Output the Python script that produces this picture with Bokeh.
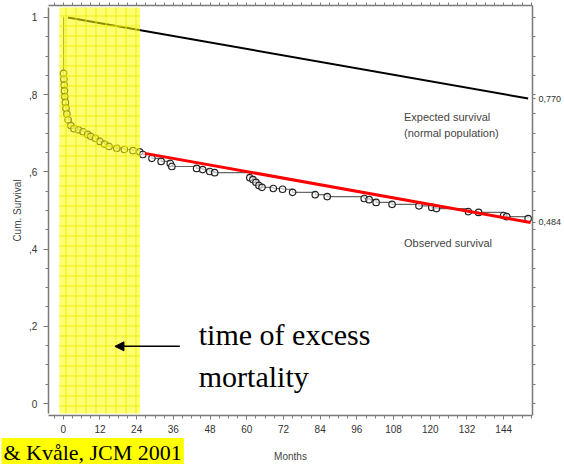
from bokeh.plotting import figure
from bokeh.models import Range1d, LinearAxis, FixedTicker, Label, Arrow, NormalHead
from bokeh.embed import file_html
from bokeh.resources import INLINE

# ---------------- data ----------------
x_ticks = [0, 12, 24, 36, 48, 60, 72, 84, 96, 108, 120, 132, 144]
x_minor = [m for m in range(-3, 154, 3)]
y_ticks = [0, 0.2, 0.4, 0.6, 0.8, 1.0]
y_tick_labels = ["0", ",2", ",4", ",6", ",8", "1"]
y_minor = [round(0.05 * k, 2) for k in range(0, 21)]

# observed (Kaplan-Meier) survival, months / cumulative survival
obs_months = [0, 0.1, 0.2, 0.3, 0.4, 0.5, 0.7, 0.9, 1.2, 1.6,
              2.5, 3.5, 5, 6.5, 8, 9, 10.5, 12, 13.5, 15,
              17.5, 20, 22.8, 25, 26, 29, 32, 35, 35.5, 43.6,
              45.6, 47.9, 49.5, 61, 62, 63, 64, 65, 68.7, 71.7,
              75, 82.4, 86.3, 98.4, 100, 102.3, 107.5, 116.3, 120.5, 122,
              132.5, 135.8, 144, 145, 152]
obs_surv = [1.0, 0.855, 0.84, 0.825, 0.81, 0.795, 0.78, 0.765, 0.75, 0.735,
            0.72, 0.712, 0.709, 0.704, 0.697, 0.692, 0.687, 0.679, 0.672, 0.666,
            0.661, 0.658, 0.655, 0.652, 0.645, 0.635, 0.627, 0.622, 0.614, 0.609,
            0.606, 0.601, 0.598, 0.585, 0.580, 0.573, 0.565, 0.560, 0.557, 0.555,
            0.547, 0.541, 0.536, 0.531, 0.528, 0.521, 0.516, 0.512, 0.508, 0.505,
            0.497, 0.495, 0.487, 0.484, 0.479]

# expected survival (normal population)
exp_months = [1.5, 152]
exp_surv = [1.0, 0.79]

# fitted trend of observed survival after 24 months
fit_months = [26.7, 152.8]
fit_surv = [0.648, 0.469]

# right-axis end labels
right_labels = ["0,770", "0,484"]

# period of excess mortality (shaded)
excess_start, excess_end = -1.3, 25.1

# ---------------- layout constants ----------------
X_LO, X_HI = -20.52, 153.42      # frame spans the full width up to the right axis
Y_LO, Y_HI = -0.158, 1.031       # frame spans down to the bottom edge
X_AXIS_AT = -0.031               # where the bottom axis line sits
Y_AXIS_AT = -4.89                # where the left axis line sits

p = figure(width=564, height=464,
           x_range=Range1d(X_LO, X_HI), y_range=Range1d(Y_LO, Y_HI),
           output_backend="svg", toolbar_location=None,
           min_border_left=0, min_border_right=30,
           min_border_top=5, min_border_bottom=0)
p.xgrid.visible = False
p.ygrid.visible = False
p.outline_line_color = None

AX_COL = "#7a7a7a"
LBL_COL = "#333333"
FONT = "Liberation Sans"

def style_axis(ax):
    ax.axis_line_color = AX_COL
    ax.axis_line_width = 1.5
    ax.major_tick_line_color = AX_COL
    ax.minor_tick_line_color = AX_COL
    ax.major_tick_in = 0
    ax.minor_tick_in = 0
    ax.major_label_text_color = LBL_COL
    ax.major_label_text_font = FONT
    ax.major_label_text_font_size = "10px"
    ax.axis_label_text_font = FONT
    ax.axis_label_text_font_style = "normal"
    ax.axis_label_text_font_size = "10px"
    ax.axis_label_text_color = "#444444"

# bottom axis
xax = p.xaxis[0]
xax.ticker = FixedTicker(ticks=x_ticks, minor_ticks=x_minor)
style_axis(xax)
xax.fixed_location = X_AXIS_AT
xax.bounds = (Y_AXIS_AT, X_HI)
xax.major_tick_out = 4
xax.minor_tick_out = 3
xax.major_label_standoff = 6
xax.axis_label = "Months"
xax.axis_label_standoff = 14

# left axis
yax = p.yaxis[0]
yax.ticker = FixedTicker(ticks=y_ticks, minor_ticks=y_minor)
yax.major_label_overrides = {t: s for t, s in zip(y_ticks, y_tick_labels)}
style_axis(yax)
yax.fixed_location = Y_AXIS_AT
yax.bounds = (-0.026, 1.026)
yax.major_tick_out = 5
yax.minor_tick_out = 3
yax.major_label_standoff = 6
yax.axis_label = "Cum. Survival"
yax.axis_label_standoff = 3

# top axis (tick marks only, every 3 months)
top = LinearAxis(ticker=FixedTicker(ticks=[], minor_ticks=x_minor))
style_axis(top)
top.bounds = (Y_AXIS_AT, X_HI)
top.minor_tick_out = 3
top.major_label_standoff = 0
p.add_layout(top, "above")

# right axis with end values
r_ticks = [exp_surv[-1], fit_surv[-1]]
right = LinearAxis(ticker=FixedTicker(ticks=r_ticks, minor_ticks=y_minor))
style_axis(right)
right.bounds = (X_AXIS_AT, Y_HI)
right.major_label_overrides = {t: s for t, s in zip(r_ticks, right_labels)}
right.major_label_text_font_size = "9px"
right.major_tick_out = 3
right.minor_tick_out = 3
right.major_label_standoff = 3
p.add_layout(right, "right")

# ---------------- glyphs ----------------
p.line(exp_months, exp_surv, line_color="black", line_width=2)
p.step(obs_months, obs_surv, mode="after", line_color="#666666", line_width=1.2)
p.scatter(obs_months[1:], obs_surv[1:], marker="circle", size=6.5,
          fill_color="white", fill_alpha=0.6, line_color="#222222", line_width=1.2)
p.line(fit_months, fit_surv, line_color="#ff0000", line_width=3)

# shaded period of excess mortality (drawn on top, semi-transparent)
p.quad(left=[excess_start], right=[excess_end], bottom=[-0.026], top=[1.026],
       fill_color="#ffff00", fill_alpha=0.55, line_color=None,
       hatch_pattern="+", hatch_color="#ecec00", hatch_alpha=0.9,
       hatch_scale=10, hatch_weight=1)

# ---------------- annotations ----------------
def text_label(x, y, txt, size, font=FONT, color="#444444"):
    lab = Label(x=x, y=y, text=txt, text_font=font, text_font_size=size,
                text_color=color, text_baseline="middle", text_align="left")
    p.add_layout(lab)
    return lab

text_label(111.4, 0.741, "Expected survival", "11px")
text_label(111.4, 0.702, "(normal population)", "11px")
text_label(111.4, 0.4145, "Observed survival", "11px")

text_label(44.3, 0.179, "time of excess", "30px", font="Liberation Serif", color="black")
text_label(44.3, 0.070, "mortality", "30px", font="Liberation Serif", color="black")

p.add_layout(Arrow(end=NormalHead(size=9, fill_color="black", line_color="black"),
                   x_start=38.1, y_start=0.148, x_end=16.9, y_end=0.148,
                   line_color="black", line_width=1.5))

# citation at the bottom-left corner, yellow highlighted
src = Label(x=X_LO + 0.3, y=-0.127, text="& Kvåle, JCM 2001",
            text_font="Liberation Serif", text_font_size="22px", text_color="black",
            text_baseline="middle", background_fill_color="#ffff00", padding=2)
p.add_layout(src)

open("out.html", "w").write(file_html(p, INLINE))
